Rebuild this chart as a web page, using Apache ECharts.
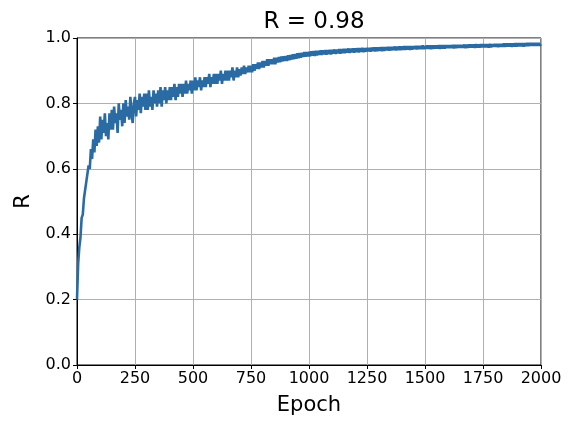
<!DOCTYPE html>
<html>
<head>
    <meta charset="utf-8">
    <title>R vs Epoch</title>
    <script src="https://cdn.jsdelivr.net/npm/echarts@6/dist/echarts.min.js"></script>
    <style>
        html, body { margin: 0; padding: 0; background: #fff; }
        #chart { width: 572px; height: 422px; }
    </style>
</head>
<body>
<div id="chart"></div>
<script>
    // one reading every 5 epochs (10 per row = 50 epochs)
    var epochStep = 5;
    var xTicks = [0, 250, 500, 750, 1000, 1250, 1500, 1750, 2000];
    var yTicks = [0.0, 0.2, 0.4, 0.6, 0.8, 1.0];
    var rValues = [
        0.20, 0.31, 0.36, 0.39, 0.45, 0.46, 0.51, 0.51, 0.56, 0.56,
        0.61, 0.60, 0.66, 0.63, 0.69, 0.65, 0.72, 0.67, 0.73, 0.68,
        0.76, 0.69, 0.75, 0.71, 0.77, 0.70, 0.74, 0.69, 0.77, 0.72,
        0.78, 0.72, 0.79, 0.74, 0.77, 0.71, 0.80, 0.75, 0.78, 0.73,
        0.80, 0.74, 0.81, 0.76, 0.79, 0.75, 0.82, 0.77, 0.74, 0.80,
        0.82, 0.76, 0.81, 0.78, 0.83, 0.77, 0.82, 0.79, 0.83, 0.78,
        0.83, 0.78, 0.84, 0.79, 0.82, 0.78, 0.84, 0.80, 0.83, 0.79,
        0.84, 0.80, 0.85, 0.79, 0.84, 0.81, 0.85, 0.80, 0.84, 0.81,
        0.85, 0.81, 0.85, 0.82, 0.86, 0.81, 0.85, 0.82, 0.86, 0.83,
        0.86, 0.82, 0.86, 0.83, 0.87, 0.83, 0.86, 0.84, 0.87, 0.83,
        0.87, 0.84, 0.88, 0.84, 0.87, 0.85, 0.88, 0.84, 0.87, 0.85,
        0.88, 0.85, 0.88, 0.86, 0.89, 0.85, 0.88, 0.86, 0.89, 0.86,
        0.89, 0.86, 0.89, 0.87, 0.90, 0.86, 0.89, 0.87, 0.90, 0.87,
        0.90, 0.87, 0.90, 0.88, 0.91, 0.87, 0.90, 0.88, 0.91, 0.88,
        0.905, 0.885, 0.91, 0.89, 0.915, 0.89, 0.91, 0.895, 0.915, 0.895,
        0.915, 0.895, 0.92, 0.90, 0.92, 0.905, 0.925, 0.905, 0.925, 0.91,
        0.93, 0.91, 0.93, 0.915, 0.935, 0.915, 0.935, 0.92, 0.935, 0.92,
        0.94, 0.92, 0.94, 0.925, 0.942, 0.926, 0.943, 0.928, 0.944, 0.93,
        0.945, 0.93, 0.947, 0.932, 0.948, 0.934, 0.95, 0.935, 0.951, 0.937,
        0.953, 0.938, 0.954, 0.94, 0.955, 0.942, 0.957, 0.943, 0.957, 0.944,
        0.958, 0.944, 0.959, 0.946, 0.96, 0.945, 0.961, 0.947, 0.961, 0.948,
        0.962, 0.948, 0.962, 0.95, 0.963, 0.949, 0.963, 0.951, 0.964, 0.95,
        0.964, 0.952, 0.965, 0.951, 0.965, 0.953, 0.966, 0.952, 0.966, 0.954,
        0.967, 0.954, 0.967, 0.955, 0.968, 0.954, 0.968, 0.956, 0.968, 0.955,
        0.968, 0.957, 0.969, 0.956, 0.969, 0.958, 0.97, 0.957, 0.969, 0.958,
        0.97, 0.959, 0.97, 0.958, 0.971, 0.96, 0.971, 0.959, 0.971, 0.96,
        0.971, 0.961, 0.972, 0.96, 0.972, 0.961, 0.972, 0.962, 0.973, 0.961,
        0.973, 0.962, 0.973, 0.963, 0.974, 0.962, 0.974, 0.963, 0.974, 0.963,
        0.974, 0.964, 0.975, 0.964, 0.975, 0.965, 0.975, 0.964, 0.975, 0.965,
        0.975, 0.966, 0.976, 0.965, 0.976, 0.966, 0.976, 0.966, 0.977, 0.966,
        0.976, 0.967, 0.977, 0.967, 0.977, 0.966, 0.977, 0.967, 0.977, 0.968,
        0.977, 0.968, 0.978, 0.967, 0.978, 0.968, 0.978, 0.968, 0.978, 0.969,
        0.978, 0.969, 0.978, 0.969, 0.979, 0.968, 0.979, 0.969, 0.979, 0.97,
        0.979, 0.97, 0.979, 0.97, 0.98, 0.969, 0.98, 0.97, 0.98, 0.971,
        0.98, 0.971, 0.98, 0.97, 0.981, 0.971, 0.98, 0.971, 0.981, 0.972,
        0.981, 0.972, 0.981, 0.972, 0.981, 0.971, 0.982, 0.972, 0.981, 0.973,
        0.982, 0.973, 0.982, 0.972, 0.982, 0.973, 0.982, 0.973, 0.983, 0.973,
        0.983, 0.974, 0.983, 0.974, 0.983, 0.973, 0.983, 0.974, 0.984, 0.974,
        0.984, 0.975, 0.984, 0.975, 0.984, 0.974, 0.984, 0.975, 0.985, 0.975,
        0.985, 0.976, 0.985, 0.976, 0.985, 0.976, 0.985, 0.976, 0.985, 0.977,
        0.981
    ];

    var font = 'DejaVu Sans';
    var seriesData = rValues.map(function (v, i) { return [i * epochStep, v]; });

    var myChart = echarts.init(document.getElementById('chart'), null, {renderer: 'canvas'});
    var option = {
        animation: false,
        backgroundColor: '#fff',
        title: {
            text: 'R = 0.98',
            left: 309,
            top: 6,
            textAlign: 'center',
            textStyle: {fontFamily: font, fontSize: 23, fontWeight: 'normal', color: '#000'}
        },
        grid: {
            left: 77, right: 31, top: 38, bottom: 57,
            show: true, borderColor: '#000', borderWidth: 1
        },
        xAxis: {
            type: 'value',
            min: xTicks[0], max: xTicks[xTicks.length - 1], interval: 250,
            name: 'Epoch', nameLocation: 'middle', nameGap: 30,
            nameTextStyle: {fontFamily: font, fontSize: 21, color: '#000'},
            axisLine: {lineStyle: {color: '#000'}},
            axisTick: {show: true, length: 4, lineStyle: {color: '#000'}},
            axisLabel: {
                fontFamily: font, fontSize: 16, color: '#000', margin: 6,
                formatter: function (v) { return String(v); }
            },
            splitLine: {show: true, lineStyle: {color: '#b0b0b0', width: 1}}
        },
        yAxis: {
            type: 'value',
            min: yTicks[0], max: yTicks[yTicks.length - 1], interval: 0.2,
            name: 'R', nameLocation: 'middle', nameGap: 43, nameRotate: 90,
            nameTextStyle: {fontFamily: font, fontSize: 21, color: '#000'},
            axisLine: {show: true, lineStyle: {color: '#000'}},
            axisTick: {show: true, length: 4, lineStyle: {color: '#000'}},
            axisLabel: {
                fontFamily: font, fontSize: 16, color: '#000', margin: 6,
                formatter: function (v) { return v.toFixed(1); }
            },
            splitLine: {show: true, lineStyle: {color: '#b0b0b0', width: 1}}
        },
        series: [{
            type: 'line',
            data: seriesData,
            showSymbol: false,
            symbol: 'none',
            sampling: null,
            lineStyle: {color: '#2a6ba3', width: 2.6},
            z: 3
        }]
    };
    myChart.setOption(option);
</script>
</body>
</html>
